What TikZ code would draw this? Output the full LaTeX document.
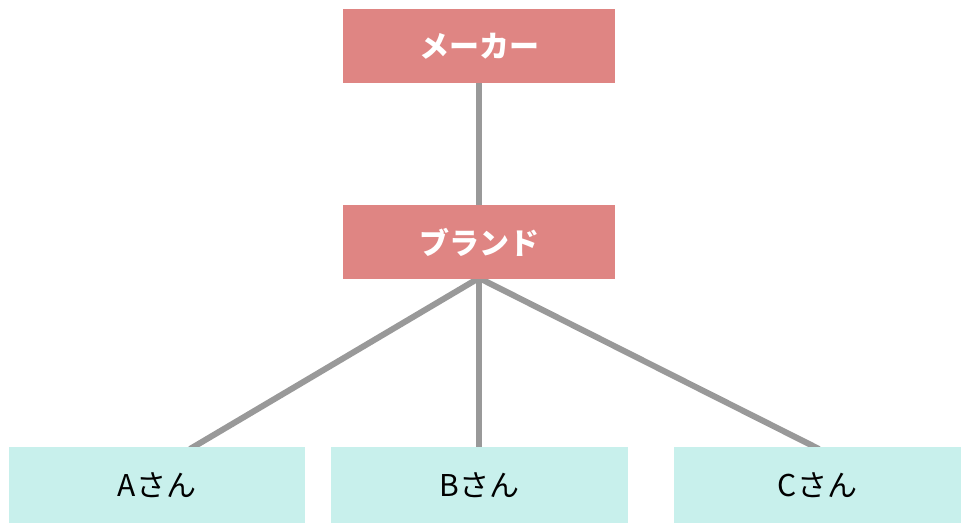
\documentclass[tikz,border=0pt]{standalone}
\usepackage{fontspec}
\newfontfamily\jp{Noto Sans CJK JP}
\usetikzlibrary{backgrounds}
\definecolor{topfill}{HTML}{DF8583}
\definecolor{leaffill}{HTML}{C8F0EC}
\definecolor{linkgray}{HTML}{999999}
\tikzset{
  topbox/.style={fill=topfill, draw=none, minimum width=272pt, minimum height=74pt, inner sep=0pt, text=white, font=\jp\bfseries\fontsize{30}{36}\selectfont},
  leafbox/.style={fill=leaffill, draw=none, minimum height=76pt, inner sep=0pt, text=black, font=\jp\fontsize{30}{36}\selectfont},
  link/.style={draw=linkgray, line width=6pt}
}
\begin{document}
\begin{tikzpicture}[x=1pt,y=-1pt]
\useasboundingbox (0,0) rectangle (961,524);
\node[topbox] (maker) at (479,46) {メーカー};
\node[topbox] (brand) at (479,242) {ブランド};
\node[leafbox, minimum width=296pt] (A) at (157,485) {Aさん};
\node[leafbox, minimum width=297pt] (B) at (479.5,485) {Bさん};
\node[leafbox, minimum width=287pt] (C) at (817.5,485) {Cさん};
\coordinate (bs) at (479,278);
\coordinate (aT) at (190,449);
\coordinate (bT) at (479,449);
\coordinate (cT) at (819,449);
\begin{scope}[on background layer]
\draw[link] (maker.south) -- (brand.north);
\draw[link] (bs) -- (aT);
\draw[link] (bs) -- (bT);
\draw[link] (bs) -- (cT);
\end{scope}
\end{tikzpicture}
\end{document}
